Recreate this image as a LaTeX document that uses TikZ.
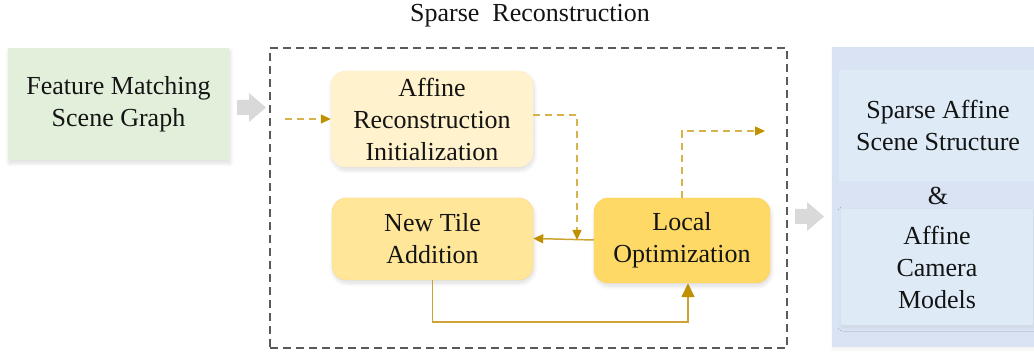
\documentclass[tikz,border=0pt]{standalone}
\usepackage{fontspec}
\setmainfont{Liberation Serif}
\usetikzlibrary{arrows.meta,shadows.blur}
\definecolor{greenbox}{HTML}{E2EFDA}
\definecolor{initbox}{HTML}{FFF2CC}
\definecolor{tilebox}{HTML}{FFE699}
\definecolor{localbox}{HTML}{FFD966}
\definecolor{outerblue}{HTML}{DAE3F3}
\definecolor{innerblue}{HTML}{DEEBF7}
\definecolor{grayarrow}{HTML}{D9D9D9}
\definecolor{goldline}{HTML}{CDA434}
\definecolor{golddash}{HTML}{D8B24C}
\definecolor{goldtip}{HTML}{BF9000}
\definecolor{framegray}{HTML}{5A5A5A}
\tikzset{
  txt/.style={font=\fontsize{26}{32}\selectfont, text=black!92, align=center, inner sep=0pt},
  softshadow/.style={blur shadow={shadow xshift=1pt, shadow yshift=-3pt, shadow blur radius=4pt, shadow blur steps=12, shadow opacity=14}},
  faintshadow/.style={blur shadow={shadow xshift=1pt, shadow yshift=-2pt, shadow blur radius=4pt, shadow blur steps=12, shadow opacity=6}},
  flowbox/.style={txt, rounded corners=14pt, softshadow},
  goldsolid/.style={draw=goldline, line width=1.5pt},
  golddashed/.style={draw=golddash, line width=1.5pt, dash pattern=on 7pt off 5pt},
  tipsmall/.style={-{Triangle[length=10pt,width=9pt,fill=goldtip,color=goldtip]}},
  tipbig/.style={-{Triangle[length=14pt,width=13pt,fill=goldtip,color=goldtip]}},
}
\begin{document}
\begin{tikzpicture}[x=1pt,y=-1pt]
\useasboundingbox (0,0) rectangle (1034,358);
\clip (0,0) rectangle (1034,358);
% title
\node[txt, anchor=base] (title) at (530,22) {Sparse\ \ Reconstruction};
% left box
\node[txt, fill=greenbox, minimum width=221pt, minimum height=112pt, softshadow] (feat) at (118.5,104) {Feature Matching\\Scene Graph};
% frame
\node[draw=framegray, line width=1.5pt, dash pattern=on 8pt off 5pt, minimum width=517pt, minimum height=300pt, inner sep=0pt] (frame) at (528.5,198) {};
% inner boxes
\node[flowbox, fill=initbox, draw=initbox!80!orange!60, dashed, thin, minimum width=202pt, minimum height=96pt] (init) at (432,119) {Affine\\Reconstruction\\Initialization};
\node[flowbox, fill=tilebox, draw=tilebox!85!orange, thin, minimum width=201pt, minimum height=82pt] (tile) at (432.5,239) {New Tile\\Addition};
\node[flowbox, fill=localbox, draw=localbox!85!orange, thin, minimum width=176pt, minimum height=85pt] (local) at (682,240.5) {Local\\Optimization};
% right boxes
\node[fill=outerblue, minimum width=208pt, minimum height=300pt, inner sep=0pt, faintshadow] (outer) at (936,197) {};
\node[txt, fill=innerblue, minimum width=198pt, minimum height=111pt] (res1) at (938,125.5) {Sparse Affine\\Scene Structure};
\node[txt, anchor=base] (amp) at (938,205) {\&};
\node[txt, fill=innerblue, minimum width=192pt, minimum height=116pt, faintshadow] (res2) at (937,267) {Affine\\Camera\\Models};
% gray block arrows
\fill[grayarrow] (237,100) -- (249,100) -- (249,93) -- (266,107.5) -- (249,122) -- (249,115) -- (237,115) -- cycle;
\fill[grayarrow] (795,209) -- (807,209) -- (807,202) -- (824,216.5) -- (807,231) -- (807,224) -- (795,224) -- cycle;
% connectors
\coordinate (inStart) at (285,119);
\coordinate (join) at (577,240);
\coordinate (outEnd) at (765,131);
\draw[golddashed, tipsmall] (inStart) -- (init.west);
\draw[golddashed, tipsmall] ([yshift=4pt]init.east) -| (join);
\draw[goldsolid, tipsmall] ([yshift=0.5pt]local.west) -- ([yshift=0.5pt]tile.east);
\draw[golddashed, tipsmall] (local.north) |- (outEnd);
\draw[goldsolid, tipbig] (tile.south) |- ([xshift=6pt]local.south |- 0,322) -- ([xshift=6pt]local.south);
\end{tikzpicture}
\end{document}
